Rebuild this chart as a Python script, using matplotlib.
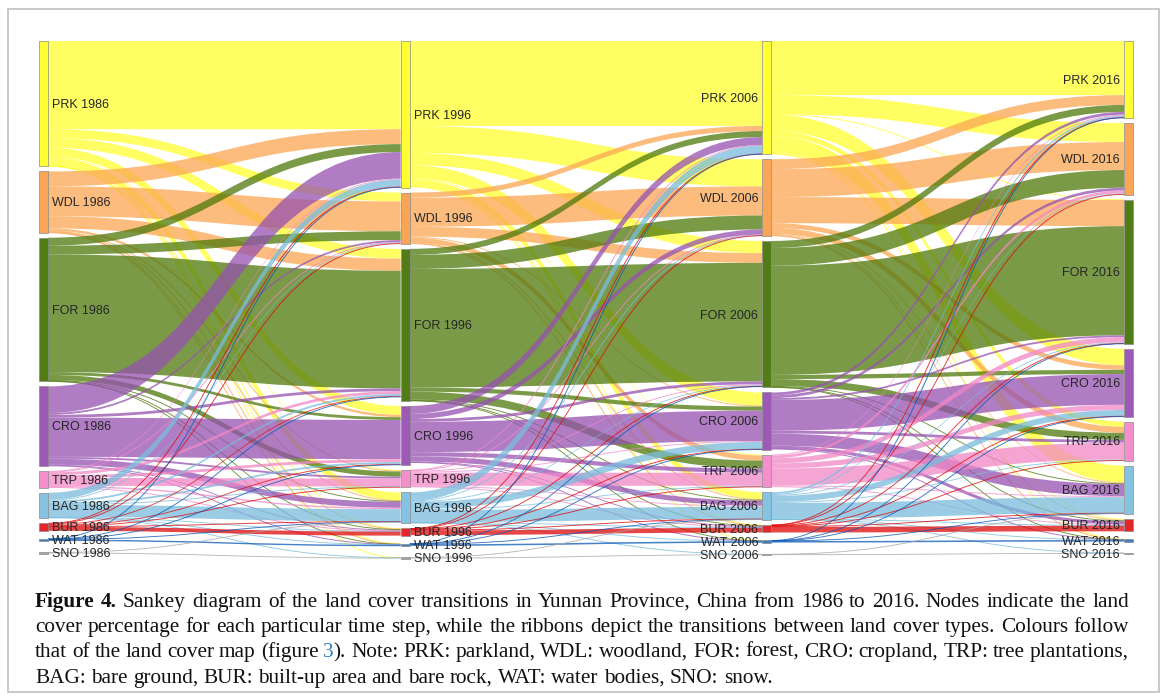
import numpy as np
import matplotlib
matplotlib.use("Agg")
import matplotlib.pyplot as plt
from matplotlib.path import Path
from matplotlib.patches import PathPatch, Rectangle

# ---------------------------------------------------------------- data
classes = ["PRK", "WDL", "FOR", "CRO", "TRP", "BAG", "BUR", "WAT", "SNO"]
years = ["1986", "1996", "2006", "2016"]

# Land-cover transitions (% of province area); rows = from, columns = to,
# both in the order of `classes`.
flows_1986_1996 = [
    [18.9, 1.9, 2.1, 1.9, 0.2, 1.7, 0.1, 0.05, 0.03],
    [3.2, 6.4, 2.6, 0.5, 0.15, 0.15, 0.1, 0.03, 0.0],
    [1.7, 1.9, 25.2, 0.6, 1.1, 0.15, 0.1, 0.05, 0.0],
    [5.7, 0.4, 0.6, 8.4, 0.4, 1.3, 0.2, 0.05, 0.0],
    [0.2, 0.1, 0.6, 0.6, 1.7, 0.3, 0.1, 0.0, 0.0],
    [1.5, 0.2, 0.4, 0.4, 0.1, 2.6, 0.1, 0.05, 0.03],
    [0.15, 0.1, 0.2, 0.2, 0.1, 0.1, 0.85, 0.0, 0.0],
    [0.05, 0.0, 0.05, 0.03, 0.0, 0.05, 0.0, 0.3, 0.0],
    [0.0, 0.0, 0.0, 0.0, 0.0, 0.05, 0.0, 0.0, 0.15],
]
flows_1996_2006 = [
    [18.2, 5.8, 2.6, 2.8, 0.2, 1.5, 0.1, 0.05, 0.0],
    [1.1, 6.25, 2.1, 0.2, 1.1, 0.15, 0.1, 0.0, 0.0],
    [1.3, 3.0, 25.4, 0.9, 1.7, 0.15, 0.1, 0.05, 0.0],
    [1.7, 1.1, 0.6, 6.5, 0.9, 1.1, 0.2, 0.05, 0.0],
    [0.1, 0.1, 0.2, 0.2, 2.8, 0.2, 0.05, 0.0, 0.0],
    [1.8, 0.1, 0.2, 1.5, 0.2, 2.6, 0.1, 0.03, 0.03],
    [0.05, 0.05, 0.1, 0.1, 0.05, 0.1, 1.0, 0.0, 0.0],
    [0.03, 0.0, 0.03, 0.03, 0.0, 0.03, 0.0, 0.33, 0.0],
    [0.0, 0.0, 0.0, 0.0, 0.0, 0.05, 0.0, 0.0, 0.16],
]
flows_2006_2016 = [
    [11.6, 4.1, 0.1, 3.5, 1.1, 3.6, 0.2, 0.05, 0.0],
    [2.1, 6.0, 5.6, 1.0, 1.3, 0.2, 0.2, 0.03, 0.0],
    [1.5, 3.8, 23.4, 0.9, 1.5, 0.15, 0.1, 0.05, 0.0],
    [0.6, 0.6, 0.4, 6.6, 0.6, 2.6, 0.7, 0.05, 0.0],
    [0.2, 0.6, 1.1, 1.1, 3.6, 0.2, 0.2, 0.0, 0.0],
    [0.4, 0.2, 0.2, 1.3, 0.2, 3.4, 0.1, 0.03, 0.03],
    [0.05, 0.05, 0.1, 0.1, 0.05, 0.1, 1.2, 0.0, 0.0],
    [0.03, 0.0, 0.03, 0.03, 0.0, 0.03, 0.0, 0.33, 0.0],
    [0.0, 0.0, 0.0, 0.0, 0.0, 0.03, 0.0, 0.0, 0.15],
]

caption_lines = [
    "Figure 4. Sankey diagram of the land cover transitions in Yunnan Province, China from 1986 to 2016. Nodes indicate the land",
    "cover percentage for each particular time step, while the ribbons depict the transitions between land cover types. Colours follow",
    "that of the land cover map (figure 3). Note: PRK: parkland, WDL: woodland, FOR: forest, CRO: cropland, TRP: tree plantations,",
    "BAG: bare ground, BUR: built-up area and bare rock, WAT: water bodies, SNO: snow.",
]

# ---------------------------------------------------------------- style
node_colors = ["#FFFF33", "#F9A557", "#527C15", "#9C59B5", "#F58FCB",
               "#86C3E0", "#E3262A", "#3D7FC0", "#A8A8A8"]
link_colors = ["#FFFF30", "#FBA652", "#4E780B", "#9652B0", "#F287C6",
               "#7ABCDE", "#DE0808", "#0858B6", "#A8A8A8"]
link_alpha = 0.75
node_edge = "#8a8a8a"

W, H = 1167, 700
fig = plt.figure(figsize=(W / 100, H / 100), dpi=100)
ax = fig.add_axes([0, 0, 1, 1])
ax.set_xlim(0, W)
ax.set_ylim(H, 0)
ax.axis("off")

# outer frame
ax.add_patch(Rectangle((7.5, 8.5), 1151, 683, fill=False, ec="#c4c4c4", lw=1.3))

# ---------------------------------------------------------------- layout
F = [np.array(f, float) for f in (flows_1986_1996, flows_1996_2006, flows_2006_2016)]
n = len(classes)
ncol = len(years)
node_val = np.zeros((ncol, n))
for c in range(ncol):
    out_v = F[c].sum(axis=1) if c < ncol - 1 else np.zeros(n)
    in_v = F[c - 1].sum(axis=0) if c > 0 else np.zeros(n)
    node_val[c] = np.maximum(out_v, in_v)

top, bottom = 41.0, 562.0
pad = 5.0
min_slot = 8.0
node_w = 9.0
col_x = np.linspace(39, 1124, ncol)


def fit_scale(vals):
    k = (bottom - top - pad * (n - 1)) / vals.sum()
    for _ in range(30):
        small = vals * k < min_slot
        k = (bottom - top - pad * (n - 1) - min_slot * small.sum()) / vals[~small].sum()
    return k


k = min(fit_scale(v) for v in node_val)

node_y0 = np.zeros((ncol, n))
node_h = np.zeros((ncol, n))
label_y = np.zeros((ncol, n))
for c in range(ncol):
    y = top
    for i in range(n):
        h = node_val[c, i] * k
        slot = max(h, min_slot)
        node_y0[c, i] = y + (slot - h) / 2
        node_h[c, i] = h
        label_y[c, i] = y + slot / 2
        y += slot + pad

# ---------------------------------------------------------------- ribbons
MOVE, CURVE, LINE, CLOSE = Path.MOVETO, Path.CURVE4, Path.LINETO, Path.CLOSEPOLY
for p, f in enumerate(F):
    xs = col_x[p] + node_w
    xt = col_x[p + 1]
    xm = (xs + xt) / 2
    src_start = node_y0[p][:, None] + (np.cumsum(f, axis=1) - f) * k
    tgt_start = node_y0[p + 1][None, :] + (np.cumsum(f, axis=0) - f) * k
    for i in range(n):
        for j in range(n):
            v = f[i, j]
            if v <= 0:
                continue
            t = v * k
            ys0, yt0 = src_start[i, j], tgt_start[i, j]
            if t >= 0.9:
                verts = [(xs, ys0), (xm, ys0), (xm, yt0), (xt, yt0),
                         (xt, yt0 + t), (xm, yt0 + t), (xm, ys0 + t), (xs, ys0 + t),
                         (xs, ys0)]
                codes = [MOVE, CURVE, CURVE, CURVE, LINE, CURVE, CURVE, CURVE, CLOSE]
                ax.add_patch(PathPatch(Path(verts, codes), fc=link_colors[i],
                                       alpha=link_alpha, lw=0))
            else:
                yc0, yc1 = ys0 + t / 2, yt0 + t / 2
                path = Path([(xs, yc0), (xm, yc0), (xm, yc1), (xt, yc1)],
                            [MOVE, CURVE, CURVE, CURVE])
                ax.add_patch(PathPatch(path, fc="none", ec=link_colors[i],
                                       lw=0.65, alpha=0.8))

# ---------------------------------------------------------------- nodes + labels
for c in range(ncol):
    for i in range(n):
        h = max(node_h[c, i], 1.6)
        y0 = label_y[c, i] - h / 2 if node_h[c, i] < 1.6 else node_y0[c, i]
        ax.add_patch(Rectangle((col_x[c], y0), node_w, h, fc=node_colors[i],
                               ec=node_edge, lw=0.5, zorder=3))
        txt = f"{classes[i]} {years[c]}"
        if c < ncol / 2:
            x, ha = col_x[c] + node_w + 4, "left"
        else:
            x, ha = col_x[c] - 4, "right"
        ax.text(x, label_y[c, i] + 4.3, txt, ha=ha, va="baseline", fontsize=9,
                family=["Liberation Sans", "DejaVu Sans"], color="#262626", zorder=4)

# ---------------------------------------------------------------- caption
renderer = fig.canvas.get_renderer()
cap_font = ["Liberation Serif", "DejaVu Serif"]
cap_left, cap_right = 35.0, 1129.0
baselines = [607, 632, 657, 683]
link_blue = "#2F7FC1"


def segments(line_no, w_no, word):
    if line_no == 0 and w_no < 2:
        return [(word, "bold", "#111111")]
    if word == "3).":
        return [("3", "normal", link_blue), (").", "normal", "#111111")]
    return [(word, "normal", "#111111")]


def measure(s, size, weight):
    t = ax.text(0, 0, s, fontsize=size, fontweight=weight, family=cap_font)
    wdt = t.get_window_extent(renderer).width
    t.remove()
    return wdt


base_size = 12.0
space_w0 = measure("a a", base_size, "normal") - measure("aa", base_size, "normal")
nat = []
for ln, line in enumerate(caption_lines[:3]):
    words = line.split(" ")
    tot = sum(measure(s, base_size, wt) for wi, w in enumerate(words)
              for s, wt, _ in segments(ln, wi, w))
    nat.append(tot + space_w0 * (len(words) - 1))
cap_size = base_size * (cap_right - cap_left) / np.mean(nat) * 0.995
space_w = space_w0 * cap_size / base_size

for ln, line in enumerate(caption_lines):
    words = line.split(" ")
    widths = []
    for wi, w in enumerate(words):
        widths.append([(s, wt, col, measure(s, cap_size, wt))
                       for s, wt, col in segments(ln, wi, w)])
    word_w = [sum(seg[3] for seg in ws) for ws in widths]
    if ln < len(caption_lines) - 1:
        gap = (cap_right - cap_left - sum(word_w)) / (len(words) - 1)
    else:
        gap = space_w
    x = cap_left
    for ws, ww in zip(widths, word_w):
        xx = x
        for s, wt, col, sw in ws:
            ax.text(xx, baselines[ln], s, fontsize=cap_size, fontweight=wt,
                    family=cap_font, color=col, ha="left", va="baseline")
            xx += sw
        x += ww + gap

fig.savefig("out.png", dpi=100, facecolor="white")
